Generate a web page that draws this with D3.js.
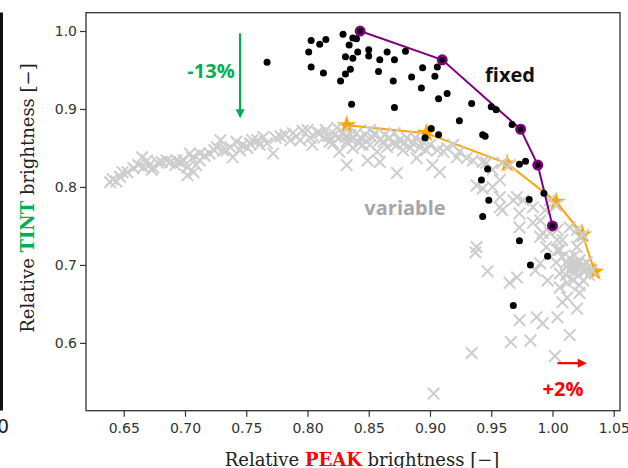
<!DOCTYPE html>
<html>
<head>
<meta charset="utf-8">
<script src="https://cdn.jsdelivr.net/npm/d3@7"></script>
<style>
  html, body { margin: 0; padding: 0; background: #fff; }
  svg { display: block; }
</style>
</head>
<body>
<svg id="chart" width="628" height="468"></svg>
<script>
// ---------------- DATA ----------------
// "variable" configurations (grey crosses): [peak, tint]
const variablePoints = [
  [0.639,0.806],[0.641,0.810],[0.644,0.807],[0.647,0.813],[0.649,0.819],[0.653,0.819],
  [0.658,0.824],[0.662,0.828],[0.665,0.838],[0.666,0.825],[0.669,0.834],[0.671,0.828],
  [0.673,0.822],[0.674,0.825],[0.678,0.831],[0.681,0.832],[0.685,0.834],[0.688,0.832],
  [0.692,0.828],[0.693,0.834],[0.696,0.831],[0.699,0.834],[0.702,0.825],[0.702,0.815],
  [0.704,0.843],[0.706,0.837],[0.707,0.819],[0.709,0.828],[0.712,0.834],[0.712,0.843],
  [0.716,0.840],[0.720,0.843],[0.724,0.847],[0.726,0.851],[0.729,0.860],[0.731,0.847],
  [0.734,0.847],[0.737,0.851],[0.739,0.838],[0.742,0.858],[0.745,0.847],[0.747,0.854],
  [0.751,0.850],[0.753,0.856],[0.755,0.860],[0.759,0.860],[0.761,0.854],[0.764,0.864],
  [0.767,0.856],[0.772,0.843],[0.774,0.863],[0.778,0.865],[0.782,0.867],[0.786,0.860],
  [0.788,0.869],[0.791,0.865],[0.794,0.860],[0.796,0.872],[0.800,0.873],[0.802,0.863],
  [0.804,0.854],[0.808,0.870],[0.810,0.869],[0.813,0.863],
  [0.815,0.873],[0.818,0.858],[0.821,0.856],[0.822,0.867],[0.824,0.876],[0.826,0.845],
  [0.829,0.870],[0.832,0.858],[0.832,0.828],[0.835,0.867],[0.836,0.860],[0.837,0.850],
  [0.840,0.869],[0.843,0.863],[0.845,0.854],[0.847,0.867],[0.849,0.834],[0.851,0.854],
  [0.853,0.863],[0.857,0.845],[0.859,0.832],[0.859,0.860],[0.862,0.858],[0.865,0.851],
  [0.867,0.863],[0.870,0.856],[0.873,0.854],[0.873,0.818],[0.875,0.860],[0.878,0.847],
  [0.881,0.863],[0.884,0.850],[0.886,0.856],[0.889,0.837],[0.892,0.851],[0.894,0.858],
  [0.897,0.847],[0.900,0.854],[0.902,0.828],[0.906,0.847],[0.908,0.819],[0.911,0.845],
  [0.914,0.850],[0.919,0.854],[0.922,0.838],[0.924,0.845],[0.930,0.837],[0.935,0.834],
  [0.831,0.864],[0.842,0.856],[0.855,0.869],[0.863,0.867],[0.871,0.869],[0.879,0.856],
  [0.888,0.863],[0.851,0.873],[0.826,0.863],[0.817,0.865],
  [0.938,0.802],[0.943,0.798],[0.943,0.832],[0.946,0.831],[0.951,0.800],[0.951,0.822],
  [0.957,0.809],[0.957,0.787],[0.957,0.774],[0.959,0.831],[0.965,0.828],[0.959,0.770],
  [0.968,0.783],[0.971,0.787],[0.973,0.766],[0.976,0.783],[0.984,0.774],[0.973,0.748],
  [0.984,0.754],[0.990,0.757],[0.990,0.736],[0.992,0.741],[0.995,0.723],[0.998,0.741],
  [1.004,0.732],[1.004,0.745],[1.008,0.732],[1.014,0.748],[1.020,0.745],[1.022,0.736],
  [1.020,0.723],[1.004,0.719],[0.938,0.723],[0.998,0.783],[1.003,0.776],[0.994,0.770],
  [1.025,0.738],[1.006,0.719],
  [0.937,0.716],[0.947,0.692],[0.965,0.677],[0.971,0.684],[0.986,0.693],[0.990,0.702],
  [0.996,0.680],[1.003,0.703],[1.006,0.689],[1.006,0.671],[1.008,0.710],[1.011,0.703],
  [1.014,0.709],[1.017,0.702],[1.019,0.696],[1.022,0.706],[1.025,0.700],[1.027,0.693],
  [1.030,0.687],[1.032,0.693],[1.021,0.687],[1.025,0.680],[1.014,0.693],[1.011,0.687],
  [1.017,0.680],[1.022,0.674],[1.028,0.703],[1.018,0.712],[1.012,0.677],[1.012,0.658],
  [1.008,0.652],[1.020,0.644],[1.022,0.664],[1.016,0.698],[1.021,0.702],[1.026,0.691],
  [1.018,0.691],[1.023,0.696],[1.013,0.700],
  [0.973,0.629],[0.987,0.633],[0.992,0.625],[1.004,0.633],[1.014,0.610],[0.982,0.603],
  [0.966,0.601],[0.934,0.587],[1.002,0.583],[0.903,0.535]
];
// "fixed" configurations (black dots): [peak, tint]
const fixedPoints = [
  [0.767,0.960],[0.803,0.988],[0.810,0.983],[0.815,0.989],[0.801,0.973],[0.803,0.954],
  [0.813,0.946],[0.829,0.996],[0.837,0.991],[0.840,0.990],[0.834,0.982],[0.841,0.973],
  [0.831,0.967],[0.837,0.965],[0.835,0.951],[0.831,0.945],[0.827,0.936],[0.850,0.976],
  [0.850,0.968],[0.859,0.963],[0.865,0.973],[0.871,0.963],[0.880,0.974],[0.858,0.948],
  [0.870,0.936],[0.885,0.941],[0.894,0.953],[0.906,0.954],[0.904,0.942],[0.893,0.927],
  [0.914,0.920],[0.907,0.913],[0.836,0.906],[0.871,0.902],[0.934,0.907],[0.950,0.903],
  [0.954,0.899],[0.924,0.885],[0.967,0.880],[0.901,0.875],[0.896,0.863],[0.907,0.867],
  [0.943,0.867],[0.945,0.865],[0.973,0.829],[0.978,0.833],[0.947,0.823],[0.942,0.809],
  [0.993,0.792],[0.948,0.783],[0.981,0.784],[0.943,0.762],[1.000,0.749],[0.973,0.731],
  [0.996,0.711],[0.982,0.700],[0.968,0.648]
];
// Pareto front of fixed configurations (purple)
const fixedFrontPeak = [0.843, 0.910, 0.974, 0.988, 1.000];
const fixedFrontTint = [1.000, 0.963, 0.874, 0.828, 0.750];
// Pareto front of variable configurations (orange stars)
const variableFrontPeak = [0.832, 0.897, 0.963, 1.003, 1.0245, 1.0345];
const variableFrontTint = [0.879, 0.869, 0.830, 0.781, 0.739, 0.691];
// Axis ticks
const xTicks = [0.65, 0.70, 0.75, 0.80, 0.85, 0.90, 0.95, 1.00, 1.05];
const yTicks = [0.6, 0.7, 0.8, 0.9, 1.0];
// Annotations
const tintArrowPeak = 0.745, tintArrowFrom = 0.997, tintArrowTo = 0.888;
const peakArrowTint = 0.574, peakArrowFrom = 1.004, peakArrowTo = 1.028;

// ---------------- CHART ----------------
const svg = d3.select("#chart");
const L = 86, R = 620, T = 12.7, B = 410.7;
const x = d3.scaleLinear().domain([0.6192, 1.0551]).range([L, R]);
const y = d3.scaleLinear().domain([0.513, 1.0235]).range([B, T]);

// neighbouring panel remnants at left edge
svg.append("line").attr("x1", 1.5).attr("x2", 1.5).attr("y1", 12.5).attr("y2", 410.5)
  .attr("stroke", "#111").attr("stroke-width", 3);
svg.append("text").attr("x", -3).attr("y", 433).attr("font-family", "DejaVu Sans")
  .attr("font-size", 19).attr("fill", "#222").text("0");

// axes
const xAxis = svg.append("g").attr("transform", `translate(0,${B})`)
  .call(d3.axisBottom(x).tickValues(xTicks).tickFormat(d3.format(".2f")).tickSize(6).tickPadding(6));
const yAxis = svg.append("g").attr("transform", `translate(${L},0)`)
  .call(d3.axisLeft(y).tickValues(yTicks).tickFormat(d3.format(".1f")).tickSize(6).tickPadding(3));
[xAxis, yAxis].forEach(g => {
  g.select(".domain").remove();
  g.selectAll("line").attr("stroke", "#333").attr("stroke-width", 1.2);
  g.selectAll("text").attr("font-family", "DejaVu Sans").attr("font-size", 14).attr("fill", "#333");
});

// orange front line + stars
const line = d3.line().x(d => x(d[0])).y(d => y(d[1]));
const vFront = variableFrontPeak.map((p, i) => [p, variableFrontTint[i]]);
svg.append("path").attr("d", line(vFront)).attr("fill", "none")
  .attr("stroke", "#FFA500").attr("stroke-width", 2);
svg.selectAll(".star").data(vFront).join("path").attr("class", "star")
  .attr("transform", d => `translate(${x(d[0])},${y(d[1])})`)
  .attr("d", d3.symbol().type(d3.symbolStar).size(115))
  .attr("fill", "#FFA500");

// grey crosses
const cs = 5.8;
svg.append("g").selectAll("path").data(variablePoints).join("path")
  .attr("d", d => {
    const cx = x(d[0]), cy = y(d[1]);
    return `M${cx - cs},${cy - cs}L${cx + cs},${cy + cs}M${cx - cs},${cy + cs}L${cx + cs},${cy - cs}`;
  })
  .attr("stroke", "#cdcdcd").attr("stroke-width", 2).attr("fill", "none");

// purple front
const fFront = fixedFrontPeak.map((p, i) => [p, fixedFrontTint[i]]);
svg.append("path").attr("d", line(fFront)).attr("fill", "none")
  .attr("stroke", "#800080").attr("stroke-width", 2);

// black dots
svg.append("g").selectAll("circle").data(fixedPoints).join("circle")
  .attr("cx", d => x(d[0])).attr("cy", d => y(d[1])).attr("r", 3.5).attr("fill", "#000");

// purple markers
svg.append("g").selectAll("circle").data(fFront).join("circle")
  .attr("cx", d => x(d[0])).attr("cy", d => y(d[1])).attr("r", 4.2)
  .attr("fill", "#000").attr("stroke", "#800080").attr("stroke-width", 2.6);

// frame
svg.append("rect").attr("x", L).attr("y", T).attr("width", R - L).attr("height", B - T)
  .attr("fill", "none").attr("stroke", "#333").attr("stroke-width", 1.3);

// arrows
const green = "#00B050", red = "#FF0000";
const ax = x(tintArrowPeak), ay1 = y(tintArrowFrom), ay2 = y(tintArrowTo);
svg.append("line").attr("x1", ax).attr("x2", ax).attr("y1", ay1).attr("y2", ay2 - 8)
  .attr("stroke", green).attr("stroke-width", 2.2);
svg.append("path").attr("d", `M${ax - 4.5},${ay2 - 9}L${ax + 4.5},${ay2 - 9}L${ax},${ay2}Z`).attr("fill", green);
const rx1 = x(peakArrowFrom), rx2 = x(peakArrowTo), ry = y(peakArrowTint);
svg.append("line").attr("x1", rx1).attr("x2", rx2 - 8).attr("y1", ry).attr("y2", ry)
  .attr("stroke", red).attr("stroke-width", 2.2);
svg.append("path").attr("d", `M${rx2 - 9},${ry - 4.5}L${rx2 - 9},${ry + 4.5}L${rx2},${ry}Z`).attr("fill", red);

// annotation labels
const annoFont = "Open Sans";
svg.append("text").attr("x", 211).attr("y", 78).attr("text-anchor", "middle")
  .attr("font-family", annoFont).attr("font-weight", "bold").attr("font-size", 20)
  .attr("fill", green).text("-13%");
svg.append("text").attr("x", 510).attr("y", 82).attr("text-anchor", "middle")
  .attr("font-family", annoFont).attr("font-weight", "bold").attr("font-size", 20)
  .attr("fill", "#111").text("fixed");
svg.append("text").attr("x", 405).attr("y", 215).attr("text-anchor", "middle")
  .attr("font-family", annoFont).attr("font-weight", "bold").attr("font-size", 20)
  .attr("fill", "#a6a6a6").text("variable");
svg.append("text").attr("x", 563).attr("y", 396).attr("text-anchor", "middle")
  .attr("font-family", annoFont).attr("font-weight", "bold").attr("font-size", 20)
  .attr("fill", red).text("+2%");

// axis titles
const serif = "DejaVu Serif";
const xt = svg.append("text").attr("x", 362).attr("y", 466).attr("text-anchor", "middle")
  .attr("font-family", serif).attr("font-size", 18).attr("fill", "#222");
xt.append("tspan").text("Relative ");
xt.append("tspan").attr("fill", red).attr("font-weight", "bold").text("PEAK");
xt.append("tspan").text(" brightness [\u2212]");
const yt = svg.append("text").attr("transform", "translate(34,198) rotate(-90)").attr("text-anchor", "middle")
  .attr("font-family", serif).attr("font-size", 18).attr("fill", "#222");
yt.append("tspan").text("Relative ");
yt.append("tspan").attr("fill", green).attr("font-weight", "bold").text("TINT");
yt.append("tspan").text(" brightness [\u2212]");
</script>
</body>
</html>
